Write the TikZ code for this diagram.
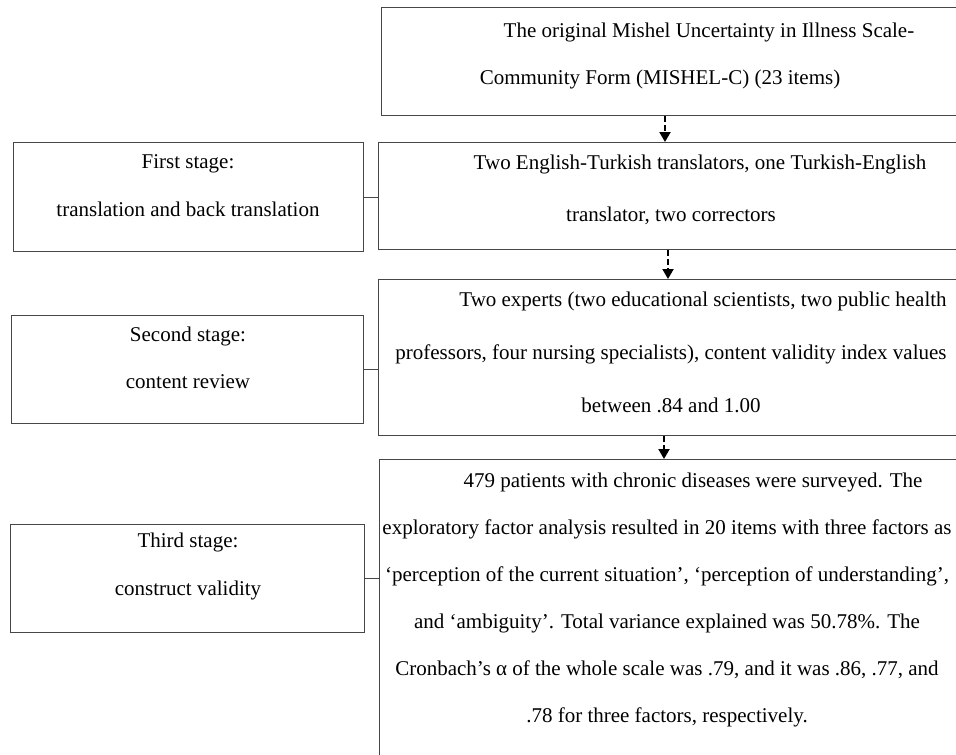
\documentclass[tikz,border=0pt]{standalone}
\usepackage{fontspec}
\setmainfont{Liberation Serif}
\usetikzlibrary{arrows.meta}
\begin{document}
\begin{tikzpicture}[x=1pt,y=-1pt,
  box/.style={draw=black!72,line width=1.1pt,rectangle,inner sep=0pt,anchor=north west},
  txt/.style={align=center,inner sep=0pt,font=\fontsize{21}{47}\selectfont},
  link/.style={draw=black!72,line width=1.1pt},
  dasharrow/.style={line width=2pt,dash pattern=on 6pt off 3pt,-{Triangle[length=10pt,width=11pt]}}]
\useasboundingbox (0,0) rectangle (956,755);
\clip (0,0) rectangle (956,755);
\fill[white] (0,0) rectangle (956,755);
% right column boxes
\node[box,minimum width=589pt,minimum height=108pt] (A) at (381,7) {};
\node[box,minimum width=592pt,minimum height=107pt] (B) at (378,142) {};
\node[box,minimum width=592pt,minimum height=156pt] (C) at (378,279) {};
\node[box,minimum width=591pt,minimum height=320pt] (D) at (379,459) {};
% left column boxes
\node[box,minimum width=350pt,minimum height=109pt] (S1) at (13,142) {};
\node[box,minimum width=352pt,minimum height=108pt] (S2) at (11,315) {};
\node[box,minimum width=354pt,minimum height=108pt] (S3) at (10,524) {};
% texts
\node[txt] (tA) at (660,56) {\hspace*{98pt}The original Mishel Uncertainty in Illness Scale-\\Community Form (MISHEL-C) (23 items)};
\node[txt,font=\fontsize{21}{52}\selectfont] (tB) at (671,190) {\hspace*{58pt}Two English-Turkish translators, one Turkish-English\\translator, two correctors};
\node[txt,font=\fontsize{21}{53}\selectfont] (tC) at (671,352) {\hspace*{64pt}Two experts (two educational scientists, two public health\\professors, four nursing specialists), content validity index values\\between .84 and 1.00};
\node[txt] (tD) at (667,600) {\hspace*{52pt}479 patients with chronic diseases were surveyed. The\\exploratory factor analysis resulted in 20 items with three factors as\\‘perception of the current situation’, ‘perception of understanding’,\\and ‘ambiguity’. Total variance explained was 50.78\%. The\\Cronbach’s α of the whole scale was .79, and it was .86, .77, and\\.78 for three factors, respectively.};
\node[txt,font=\fontsize{21}{48}\selectfont] (t1) at (188,186) {First stage:\\translation and back translation};
\node[txt,font=\fontsize{21}{47}\selectfont] (t2) at (188,358) {Second stage:\\content review};
\node[txt,font=\fontsize{21}{48}\selectfont] (t3) at (188,566) {Third stage:\\construct validity};
% side links
\draw[link] (S1.east) -- (S1.east -| B.west);
\draw[link] (S2.east) -- (S2.east -| C.west);
\draw[link] (S3.east) -- (S3.east -| D.west);
% dashed arrows
\coordinate (x1) at (665,0);
\coordinate (x2) at (668,0);
\coordinate (x3) at (664,0);
\draw[dasharrow] (A.south -| x1) -- (B.north -| x1);
\draw[dasharrow] (B.south -| x2) -- (C.north -| x2);
\draw[dasharrow] (C.south -| x3) -- (D.north -| x3);
\end{tikzpicture}
\end{document}
